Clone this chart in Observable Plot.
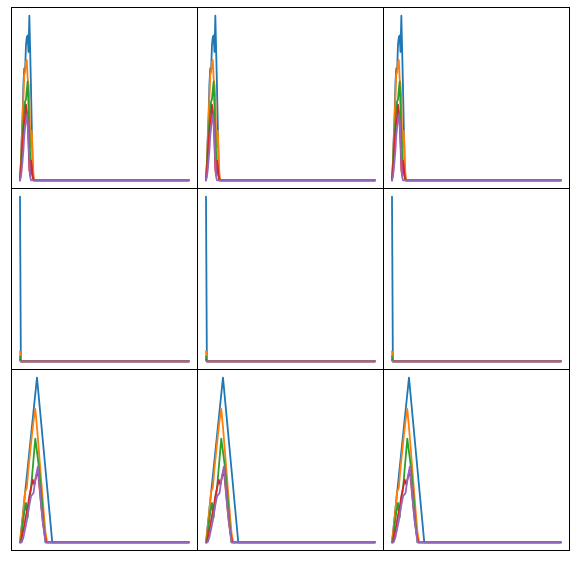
<!DOCTYPE html>
<html><head><meta charset="utf-8">
<script src="https://cdn.jsdelivr.net/npm/d3@7"></script>
<script src="https://cdn.jsdelivr.net/npm/@observablehq/plot@0.6"></script>
<style>body{margin:0;background:#fff}</style>
</head><body><div id="chart"></div>
<script>
const seriesNames = ["s0","s1","s2","s3","s4"];
const colors = ["#1f77b4","#ff7f0e","#2ca02c","#d62728","#9467bd"];
const rowIds = [0,1,2];
const colIds = [0,1,2];

// top row: [x, value]
const topBlue = [[0,0],[1,10],[2,25],[3,38],[4,58],[5,68],[6,66],[7,82],[8,87],[9,88],[10,78],[11,100],[12,78],[13,55],[14,30],[15,8],[16,0],[199,0]];
const topOrange = [[0,0],[1,10],[2,24],[3,38],[4,50],[5,64],[6,66],[7,72],[8,73],[9,62],[10,58],[11,50],[12,25],[13,20],[14,30],[15,12],[16,2],[17,0],[199,0]];
const topGreen = [[0,0],[1,8],[2,18],[3,28],[4,36],[5,42],[6,48],[7,49],[8,55],[9,60],[10,45],[11,30],[12,15],[13,8],[14,4],[15,2],[16,0],[199,0]];
const topRed = [[0,0],[1,6],[2,14],[3,22],[4,30],[5,35],[6,38],[7,46],[8,42],[9,35],[10,22],[11,6],[12,3],[13,12],[14,8],[15,2],[16,0],[199,0]];
const topPurple = [[0,0],[1,2],[2,6],[3,12],[4,18],[5,27],[6,32],[7,36],[8,40],[9,36],[10,25],[11,12],[12,2],[13,0],[199,0]];

// middle row
const midBlue = [[0,100],[1,0],[199,0]];
const midOrange = [[0,6],[1,0],[199,0]];
const midGreen = [[0,3],[1,0],[199,0]];
const midRed = [[0,1],[1,0],[199,0]];
const midPurple = [[0,0.5],[1,0],[199,0]];

// bottom row
const botBlue = [[0,0],[20,100],[38,0],[199,0]];
const botOrange = [[0,0],[3,14],[6,31],[8,33],[10,45],[12,55],[14,65],[16,74],[18,81],[20,70],[22,57],[24,44],[26,31],[28,18],[30,6],[32,0],[199,0]];
const botGreen = [[0,0],[1,0],[3,10],[5,18],[7,24],[9,15],[11,26],[13,33],[15,45],[18,63],[20,55],[22,47],[24,36],[26,24],[28,10],[30,0],[199,0]];
const botRed = [[0,0],[1,0],[3,5],[5,10],[7,16],[9,21],[11,28],[13,33],[15,38],[17,35],[19,40],[21,44],[23,33],[25,22],[27,12],[29,5],[31,0],[199,0]];
const botPurple = [[0,0],[2,0],[4,3],[6,8],[8,13],[10,20],[13,28],[16,30],[18,38],[21,46],[23,35],[25,22],[27,12],[29,4],[30,0],[199,0]];

const rowSeries = [
  [topBlue, topOrange, topGreen, topRed, topPurple],
  [midBlue, midOrange, midGreen, midRed, midPurple],
  [botBlue, botOrange, botGreen, botRed, botPurple]
];

const table = [];
for (const r of rowIds) for (const c of colIds) rowSeries[r].forEach((pts, i) => {
  for (const [x, y] of pts) table.push({row: r, col: c, series: seriesNames[i], x, y});
});

const chart = Plot.plot({
  width: 575, height: 561,
  marginLeft: 11, marginRight: 6, marginTop: 7, marginBottom: 11,
  fx: {padding: 0, axis: null, domain: colIds},
  fy: {padding: 0, axis: null, domain: rowIds},
  x: {axis: null, domain: [0, 199], inset: 8.5},
  y: {axis: null, domain: [0, 100], inset: 8.2},
  color: {domain: seriesNames, range: colors},
  marks: [
    Plot.line(table, {x: "x", y: "y", z: "series", stroke: "series", strokeWidth: 1.8, fx: "col", fy: "row"}),
    Plot.frame({stroke: "#000", strokeWidth: 1})
  ]
});
document.getElementById("chart").appendChild(chart);
</script>
</body></html>
